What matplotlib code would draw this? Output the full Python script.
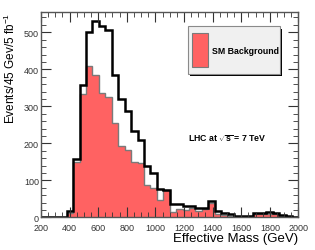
import numpy as np
import matplotlib.pyplot as plt
from matplotlib.patches import Rectangle
from matplotlib.ticker import MultipleLocator

plt.rcParams['font.family'] = ['Liberation Sans', 'DejaVu Sans']
plt.rcParams['mathtext.fontset'] = 'custom'
plt.rcParams['mathtext.rm'] = 'Liberation Sans'
plt.rcParams['mathtext.bf'] = 'Liberation Sans:bold'

# bin edges: 45 GeV bins from 200 to 2000 GeV
bin_lo = 200
bin_width = 45
n_bins = 40

# total events (black outline)
total = [0, 0, 0, 0, 18, 159, 357, 500, 531, 516,
         507, 385, 320, 288, 234, 209, 138, 120, 76, 74,
         36, 36, 30, 30, 24, 24, 44, 18, 12, 8,
         5, 4, 5, 12, 13, 14, 12, 6, 4, 2]

# SM background (red filled)
sm_bkg = [0, 0, 0, 0, 12, 150, 333, 408, 385, 336,
          326, 255, 193, 183, 150, 147, 88, 78, 47, 73,
          14, 22, 20, 24, 18, 22, 38, 9, 6, 4,
          2, 2, 3, 9, 10, 10, 9, 3, 2, 1]

edges = bin_lo + bin_width * np.arange(n_bins + 1)

fig = plt.figure(figsize=(3.15, 2.51), dpi=100)
ax = fig.add_axes([0.130, 0.130, 0.8176, 0.817])

ax.stairs(sm_bkg, edges, fill=True, facecolor='#ff6262', edgecolor='none')
ax.stairs(sm_bkg, edges, color='#7a7a7a', lw=1.0)
ax.stairs(total, edges, color='black', lw=1.8)

ax.set_xlim(200, 2000)
ax.set_ylim(0, 554)

# ROOT-like axis style
ax.xaxis.set_major_locator(MultipleLocator(200))
ax.xaxis.set_minor_locator(MultipleLocator(50))
ax.yaxis.set_major_locator(MultipleLocator(100))
ax.yaxis.set_minor_locator(MultipleLocator(20))
ax.tick_params(which='both', direction='in', top=True, right=True,
               colors='#333333', labelsize=6.5)
ax.tick_params(axis='x', pad=4)
ax.tick_params(axis='y', pad=1.5)
ax.tick_params(which='major', length=7, width=0.8)
ax.tick_params(which='minor', length=3.5, width=0.6)
for sp in ax.spines.values():
    sp.set_color('#555555')
    sp.set_linewidth(1.0)

ax.set_xlabel('Effective Mass (GeV)', loc='right', fontsize=9.5, labelpad=0)
ax.set_ylabel('Events/45 Gev/5 fb$^{-1}$', loc='top', fontsize=8.5, labelpad=4)

# legend box with shadow
lx, ly, lw_, lh = 0.571, 0.699, 0.357, 0.234
ax.add_patch(Rectangle((lx + 0.008, ly - 0.012), lw_, lh, transform=ax.transAxes,
                       facecolor='black', edgecolor='none', zorder=5))
ax.add_patch(Rectangle((lx, ly), lw_, lh, transform=ax.transAxes,
                       facecolor='#f0f0f0', edgecolor='#8a8a8a', lw=0.8, zorder=6))
ax.add_patch(Rectangle((lx + 0.016, ly + 0.033), 0.062, 0.166, transform=ax.transAxes,
                       facecolor='#ff6262', edgecolor='#7a7a7a', lw=0.8, zorder=7))
ax.text(lx + 0.095, ly + lh / 2, 'SM Background', transform=ax.transAxes,
        fontsize=6.3, fontweight='bold', va='center', ha='left', zorder=8)

ax.text(0.722, 0.387, r'LHC at $\sqrt{\mathbf{s}}$ = 7 TeV', transform=ax.transAxes,
        fontsize=6.3, fontweight='bold', va='center', ha='center')

fig.savefig('out.png', dpi=100)
